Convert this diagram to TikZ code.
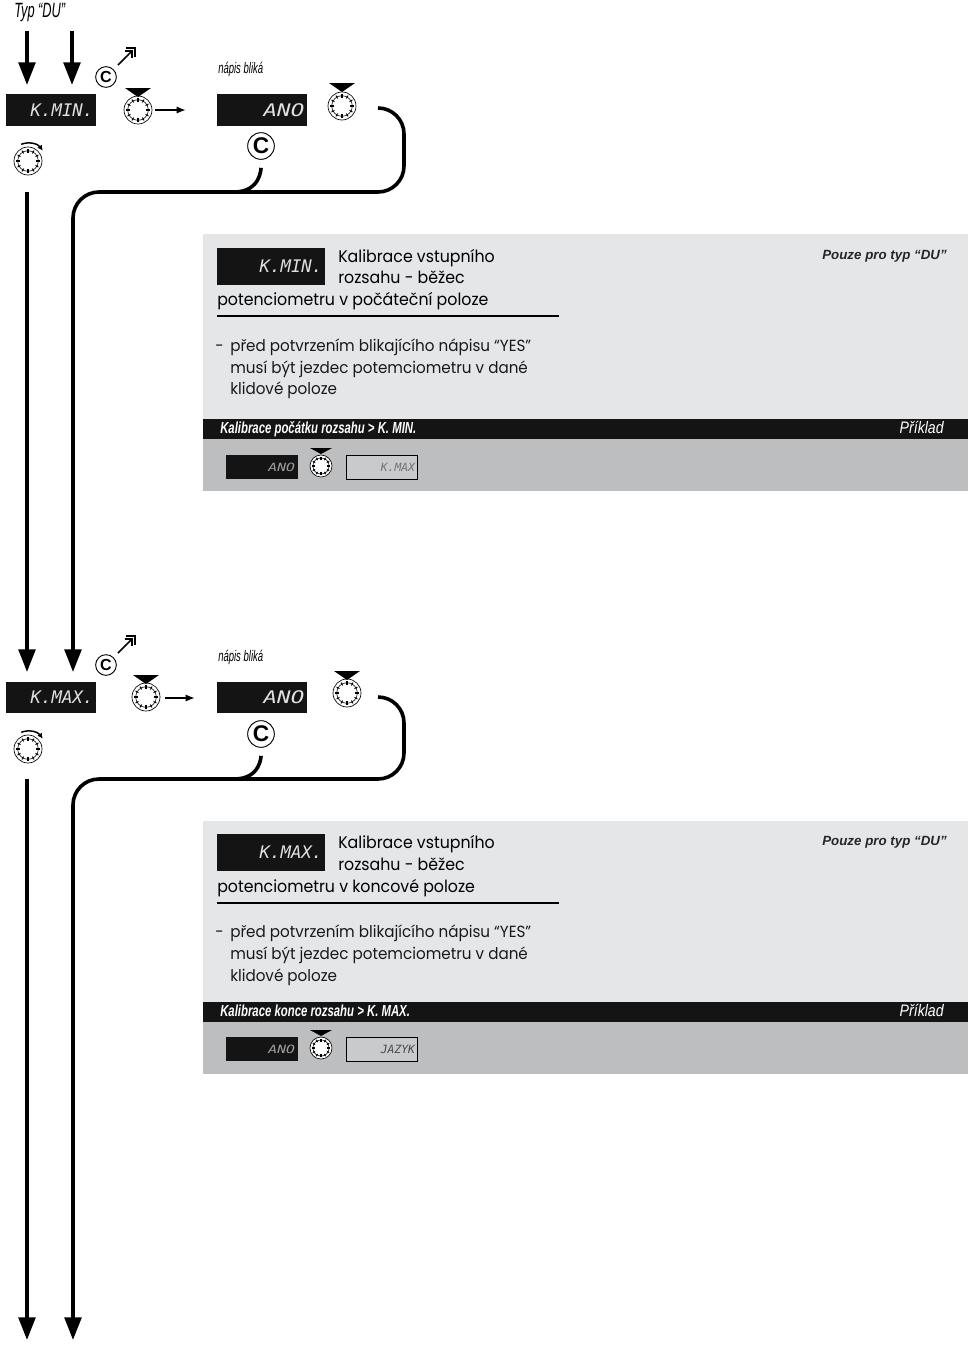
\documentclass[tikz,border=0pt]{standalone}
\usepackage{fontspec}
\usetikzlibrary{arrows.meta}
\setmainfont[FakeStretch=0.94]{Poppins}
\newfontfamily\condfont[FakeStretch=0.62]{Liberation Sans}
\newfontfamily\bandfont[FakeStretch=0.71]{Liberation Sans}
\newfontfamily\prikfont[FakeStretch=0.85]{Liberation Sans}
\newfontfamily\lcdfont{DejaVu Sans Mono}
\newfontfamily\lcdwide[FakeStretch=1.3]{DejaVu Sans Mono}
\newfontfamily\headfont{Liberation Sans}
\definecolor{panelA}{HTML}{E5E6E8}
\definecolor{panelB}{HTML}{BDBEC0}
\definecolor{lcdbox}{HTML}{141414}
\definecolor{miniA}{HTML}{C9CACC}
\newlength{\pxu}\setlength{\pxu}{0.75pt}
\tikzset{
  x=0.75pt,y=-0.75pt,
  flow/.style={line width=2.7pt,line cap=butt},
  bigarrow/.style={flow,-{Triangle[length=17pt,width=12.5pt]}},
  smallarrow/.style={line width=1.7pt,-{Latex[length=7pt,width=5.5pt]}},
  lcdshape/.style={fill=lcdbox,inner sep=2pt,align=right,font=\lcdfont\itshape\fontsize{13}{13}\selectfont,text=white!88!black},
  lcdano/.style={lcdshape,font=\lcdwide\itshape\fontsize{13}{13}\selectfont},
  minilcd/.style={inner sep=2pt,align=right,minimum width=53.5pt,text width=49.5pt,minimum height=18pt,font=\lcdfont\itshape\fontsize{8.5}{9}\selectfont},
  miniano/.style={minilcd,font=\lcdwide\itshape\fontsize{8.5}{9}\selectfont},
  knobshape/.style={circle,draw=black,line width=.5pt,fill=white,inner sep=0pt},
  cshape/.style={circle,draw=black,line width=.7pt,fill=white,inner sep=0pt,font=\headfont\bfseries},
  marker/.style={fill=black,draw=none},
  bodytxt/.style={anchor=base west,inner sep=0pt,font=\fontsize{12.1}{12.1}\selectfont,text=black!90},
  headtxt/.style={anchor=base west,inner sep=0pt,font=\fontsize{12.6}{12.6}\selectfont\mdseries,text=black},
  condtxt/.style={anchor=base west,inner sep=0pt,font=\condfont\itshape\fontsize{15.5}{15.5}\selectfont},
  blinktxt/.style={anchor=base west,inner sep=0pt,font=\condfont\itshape\fontsize{11.5}{11.5}\selectfont},
  bandtxt/.style={anchor=base west,inner sep=0pt,text=white,font=\bandfont\bfseries\itshape\fontsize{12}{12}\selectfont},
  pouzetxt/.style={anchor=base east,inner sep=0pt,font=\headfont\bfseries\itshape\fontsize{10}{10}\selectfont,text=black!85},
  priklad/.style={anchor=base east,inner sep=0pt,text=white,font=\prikfont\itshape\fontsize{12.5}{12.5}\selectfont},
}
% name, x, y, radius (px)
\newcommand{\knobat}[4]{%
  \node[knobshape,minimum size=#4*2*\pxu] (#1) at (#2,#3) {};
  \draw[line width=.45pt] (#1.center) circle[radius=#4*.74];
  \foreach \a in {0,30,...,330}{\draw[line width=.7pt] (#1.center)++(\a:#4*.62) -- ++(\a:#4*.24);}
  \foreach \a in {0,90,180,270}{\draw[line width=1.3pt] (#1.center)++(\a:#4*.56) -- ++(\a:#4*.3);}
}
% name, x, y, half width, height of pointer whose tip is at (x,y)
\newcommand{\pointer}[5]{%
  \coordinate (#1) at (#2,#3);
  \fill[marker] (#1) -- ++(-#4,-#5) -- ++(2*#4,0) -- cycle;
}
% name, x, y: turning knob with arc arrow
\newcommand{\turnknob}[3]{%
  \knobat{#1}{#2}{#3}{14}
  \draw[line width=1.1pt,-{Latex[length=4pt,width=4pt]}] (#1.center)++(-112:18) arc[start angle=-112,end angle=-35,radius=18];
}
% name, x, y: C with escape arrow
\newcommand{\escape}[3]{%
  \node[cshape,minimum size=15.5pt,font=\headfont\bfseries\fontsize{12}{12}\selectfont] (#1) at (#2,#3) {C};
  \coordinate (#1e) at (#2+29,#3-29);
  \draw[line width=1.2pt] (#2+12,#3-12) -- (#2+26,#3-26);
  \draw[line width=1.1pt] (#2+19,#3-26) -- (#2+26,#3-26) -- (#2+26,#3-19);
  \draw[line width=.8pt] (#2+20,#3-29) -- (#1e) -- (#2+29,#3-20);
}
\begin{document}
\begin{tikzpicture}
\useasboundingbox[fill=white] (0,0) rectangle (972,1346);

% ---------- panels
\fill[panelA] (203,234) rectangle (968,419);
\fill[black!92] (203,419) rectangle (968,439);
\fill[panelB] (203,439) rectangle (968,491);
\fill[panelA] (203,821) rectangle (968,1002);
\fill[black!92] (203,1002) rectangle (968,1022);
\fill[panelB] (203,1022) rectangle (968,1074);

% ---------- first block
\node[condtxt] (typ) at (14,17) {Typ “DU”};
\node[blinktxt] (blik1) at (218,73) {nápis bliká};

\node[lcdshape,minimum width=67.5pt,minimum height=24pt,text width=63.5pt] (kmin) at (51,110) {K.MIN.};
\node[lcdano,minimum width=67.5pt,minimum height=24pt,text width=63.5pt] (ano1) at (262,110) {ANO};

\coordinate (s1a) at (27,31); \coordinate (s1b) at (72,31);
\draw[bigarrow] (s1a) -- (27,85);
\draw[bigarrow] (s1b) -- (72,85);

\escape{esc1}{106}{77}
\knobat{k1}{138}{110}{14}
\pointer{p1}{138}{97}{13}{9}
\coordinate (k1r) at (155,110); \coordinate (k1t) at (186,110);
\draw[smallarrow] (k1r) -- (k1t);
\knobat{k2}{342}{106}{14}
\pointer{p2}{342}{92}{13}{9}
\turnknob{k3}{28}{161}
\node[cshape,minimum size=20pt,font=\headfont\bfseries\fontsize{17}{17}\selectfont] (c1) at (261,146) {C};

\coordinate (r1) at (378,108);
\coordinate (r1a) at (404,108);
\coordinate (r1b) at (404,192);
\coordinate (r1c) at (73,192);
\coordinate (r1d) at (73,672);
\coordinate (l1) at (27,192);
\coordinate (l1d) at (27,672);
\draw[flow,rounded corners=19.5pt,-{Triangle[length=17pt,width=12.5pt]}] (r1) -- (r1a) -- (r1b) -- (r1c) -- (r1d);
\draw[bigarrow] (l1) -- (l1d);
\draw[flow] (c1.south) ++(0,8) .. controls +(0,-0) and (261,192) .. (234,192);

% ---------- first panel
\node[lcdshape,minimum width=81pt,minimum height=27.5pt,text width=77pt] (pk1) at (271,266.5) {K.MIN.};
\node[headtxt] (h1a) at (338,262) {Kalibrace vstupního};
\node[headtxt] (h1b) at (338,283.5) {rozsahu - běžec};
\node[headtxt] (h1c) at (217,305.5) {potenciometru v počáteční poloze};
\coordinate (u1a) at (217,316); \coordinate (u1b) at (559,316);
\draw[line width=1.1pt] (u1a) -- (u1b);
\node[pouzetxt] (pz1) at (947,259) {Pouze pro typ “DU”};
\node[bodytxt] (d1) at (215,351) {-};
\node[bodytxt] (t1a) at (230,351) {před potvrzením blikajícího nápisu “YES”};
\node[bodytxt] (t1b) at (230,373) {musí být jezdec potemciometru v dané};
\node[bodytxt] (t1c) at (230,394.5) {klidové poloze};
\node[bandtxt] (b1) at (220,433) {Kalibrace počátku rozsahu > K. MIN.};
\node[priklad] (pr1) at (944,433.5) {Příklad};
\node[miniano,fill=lcdbox,text=white!62!black] (m1) at (262,467) {ANO};
\knobat{mk1}{321}{466}{11}
\pointer{mp1}{321}{454}{11}{6}
\node[minilcd,fill=miniA,draw=black,line width=.5pt,text=black!55] (m2) at (382,467) {K.MAX};

% ---------- second block
\node[blinktxt] (blik2) at (218,661) {nápis bliká};
\node[lcdshape,minimum width=67.5pt,minimum height=23.5pt,text width=63.5pt] (kmax) at (51,697.5) {K.MAX.};
\node[lcdano,minimum width=67.5pt,minimum height=23.5pt,text width=63.5pt] (ano2) at (262,697.5) {ANO};
\escape{esc2}{106}{665}
\knobat{k4}{146}{697}{14}
\pointer{p4}{146}{684}{13}{9}
\coordinate (k4r) at (165,698); \coordinate (k4t) at (195,698);
\draw[smallarrow] (k4r) -- (k4t);
\knobat{k5}{347}{693}{14}
\pointer{p5}{347}{680}{13}{9}
\turnknob{k6}{28}{749}
\node[cshape,minimum size=20pt,font=\headfont\bfseries\fontsize{17}{17}\selectfont] (c2) at (261,734) {C};

\coordinate (r2) at (378,697);
\coordinate (r2a) at (404,697);
\coordinate (r2b) at (404,779);
\coordinate (r2c) at (73,779);
\coordinate (r2d) at (73,1340);
\coordinate (l2) at (27,779);
\coordinate (l2d) at (27,1340);
\draw[flow,rounded corners=19.5pt,-{Triangle[length=17pt,width=12.5pt]}] (r2) -- (r2a) -- (r2b) -- (r2c) -- (r2d);
\draw[bigarrow] (l2) -- (l2d);
\draw[flow] (c2.south) ++(0,8) .. controls +(0,-0) and (261,779) .. (234,779);

% ---------- second panel
\node[lcdshape,minimum width=81pt,minimum height=27.5pt,text width=77pt] (pk2) at (271,852.5) {K.MAX.};
\node[headtxt] (h2a) at (338,848) {Kalibrace vstupního};
\node[headtxt] (h2b) at (338,870) {rozsahu - běžec};
\node[headtxt] (h2c) at (217,892) {potenciometru v koncové poloze};
\coordinate (u2a) at (217,903); \coordinate (u2b) at (559,903);
\draw[line width=1.1pt] (u2a) -- (u2b);
\node[pouzetxt] (pz2) at (947,845) {Pouze pro typ “DU”};
\node[bodytxt] (d2) at (215,937) {-};
\node[bodytxt] (t2a) at (230,937) {před potvrzením blikajícího nápisu “YES”};
\node[bodytxt] (t2b) at (230,959) {musí být jezdec potemciometru v dané};
\node[bodytxt] (t2c) at (230,981) {klidové poloze};
\node[bandtxt] (b2) at (220,1016) {Kalibrace konce rozsahu > K. MAX.};
\node[priklad] (pr2) at (944,1016.5) {Příklad};
\node[miniano,fill=lcdbox,text=white!62!black] (m3) at (262,1049) {ANO};
\knobat{mk2}{321}{1048}{11}
\pointer{mp2}{321}{1036}{11}{6}
\node[minilcd,fill=miniA,draw=black,line width=.5pt,text=black!70] (m4) at (382,1049) {JAZYK};
\end{tikzpicture}
\end{document}
